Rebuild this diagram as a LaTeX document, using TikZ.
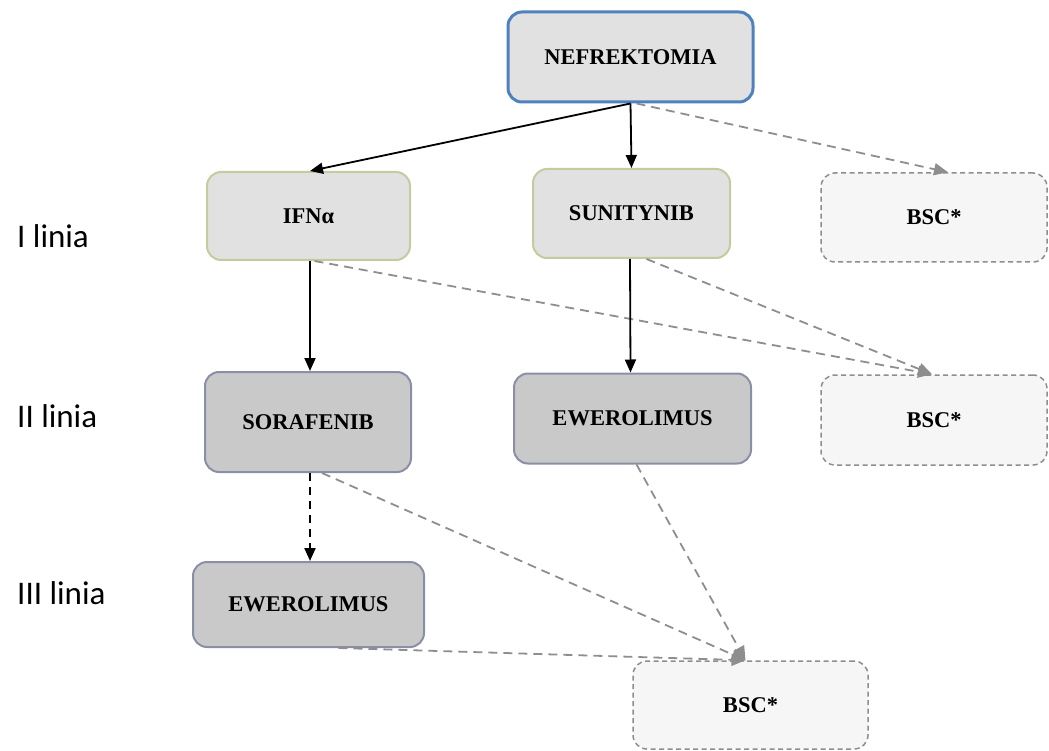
\documentclass[tikz,border=0pt]{standalone}
\usepackage{fontspec}
\setmainfont{Liberation Serif}
\newfontfamily\labfont{Carlito}
\usetikzlibrary{arrows.meta,calc}
\definecolor{nefborder}{HTML}{4F81BD}
\definecolor{lightfill}{HTML}{E1E1E1}
\definecolor{olive}{HTML}{C5CB9E}
\definecolor{darkfill}{HTML}{C9C9C9}
\definecolor{blueg}{HTML}{8A8FA6}
\definecolor{bscfill}{HTML}{F6F6F6}
\definecolor{dgray}{HTML}{8E8E8E}
\tikzset{
  box/.style={rectangle, rounded corners=14pt, inner sep=0pt, font=\fontsize{22.5}{26}\selectfont\bfseries},
  nefbox/.style={box, draw=nefborder, line width=3pt, fill=lightfill},
  firstbox/.style={box, draw=olive, line width=2pt, fill=lightfill},
  secbox/.style={box, draw=blueg, line width=2pt, fill=darkfill},
  bscbox/.style={box, draw=dgray, dash pattern=on 5pt off 3.5pt, line width=1.5pt, fill=bscfill},
  solidarr/.style={line width=1.8pt, black, -{Triangle[length=13pt,width=11pt]}},
  blackdash/.style={line width=2.2pt, black, dash pattern=on 8pt off 6pt, -{Triangle[length=13pt,width=11pt]}},
  grayarr/.style={line width=1.8pt, dgray, dash pattern=on 9pt off 6pt, -{Triangle[length=14pt,width=12pt]}},
  linelab/.style={anchor=west, inner sep=0pt, font=\labfont\fontsize{33}{38}\selectfont}
}
\begin{document}
\begin{tikzpicture}[x=1pt,y=-1pt]
\useasboundingbox (0,0) rectangle (1049,751);
% nodes
\node[nefbox, minimum width=245pt, minimum height=90pt] (nef) at (630.5,57) {NEFREKTOMIA};
\node[firstbox, minimum width=203pt, minimum height=88pt] (ifn) at (308.5,216) {IFNα};
\node[firstbox, minimum width=197pt, minimum height=89pt] (sun) at (631.5,213.5) {SUNITYNIB};
\node[bscbox, minimum width=226pt, minimum height=89pt] (bsca) at (934,217.5) {BSC*};
\node[secbox, minimum width=206pt, minimum height=100pt] (sor) at (308,422) {SORAFENIB};
\node[secbox, minimum width=237pt, minimum height=90pt] (ewea) at (632.5,418.5) {EWEROLIMUS};
\node[bscbox, minimum width=226pt, minimum height=90pt] (bscb) at (934,420) {BSC*};
\node[secbox, minimum width=231pt, minimum height=85pt] (eweb) at (308.5,604.5) {EWEROLIMUS};
\node[bscbox, minimum width=235pt, minimum height=88pt] (bscc) at (750.5,705) {BSC*};
% line labels
\node[linelab] (l1) at (17,236) {I linia};
\node[linelab] (l2) at (17,416) {II linia};
\node[linelab] (l3) at (17,593) {III linia};
% connectors
\draw[solidarr] (nef.south) -- ($(ifn.north)+(1.5,0)$);
\draw[solidarr] (nef.south) -- ($(sun.north)+(0,0)$);
\draw[grayarr] ($(nef.south)+(6,0)$) -- ($(bsca.north)+(14,0)$);
\draw[solidarr] ($(ifn.south)+(1.5,0)$) -- ($(sor.north)+(2,0)$);
\draw[grayarr] ($(ifn.south)+(6,0)$) -- ($(bscb.north)+(-2,0)$);
\draw[solidarr] ($(sun.south)+(-1.5,0)$) -- ($(ewea.north)+(-2,0)$);
\draw[grayarr] ($(sun.south)+(15,0)$) -- ($(bscb.north)+(-2,0)$);
\draw[blackdash] ($(sor.south)+(2,0)$) -- ($(eweb.north)+(1.5,0)$);
\draw[grayarr] ($(sor.south)+(14,0)$) -- ($(bscc.north)+(-5,0)$);
\draw[grayarr] ($(ewea.south)+(4,0)$) -- ($(bscc.north)+(-5,0)$);
\draw[grayarr] ($(eweb.south)+(30,0)$) -- ($(bscc.north)+(-5,0)$);
\end{tikzpicture}
\end{document}
